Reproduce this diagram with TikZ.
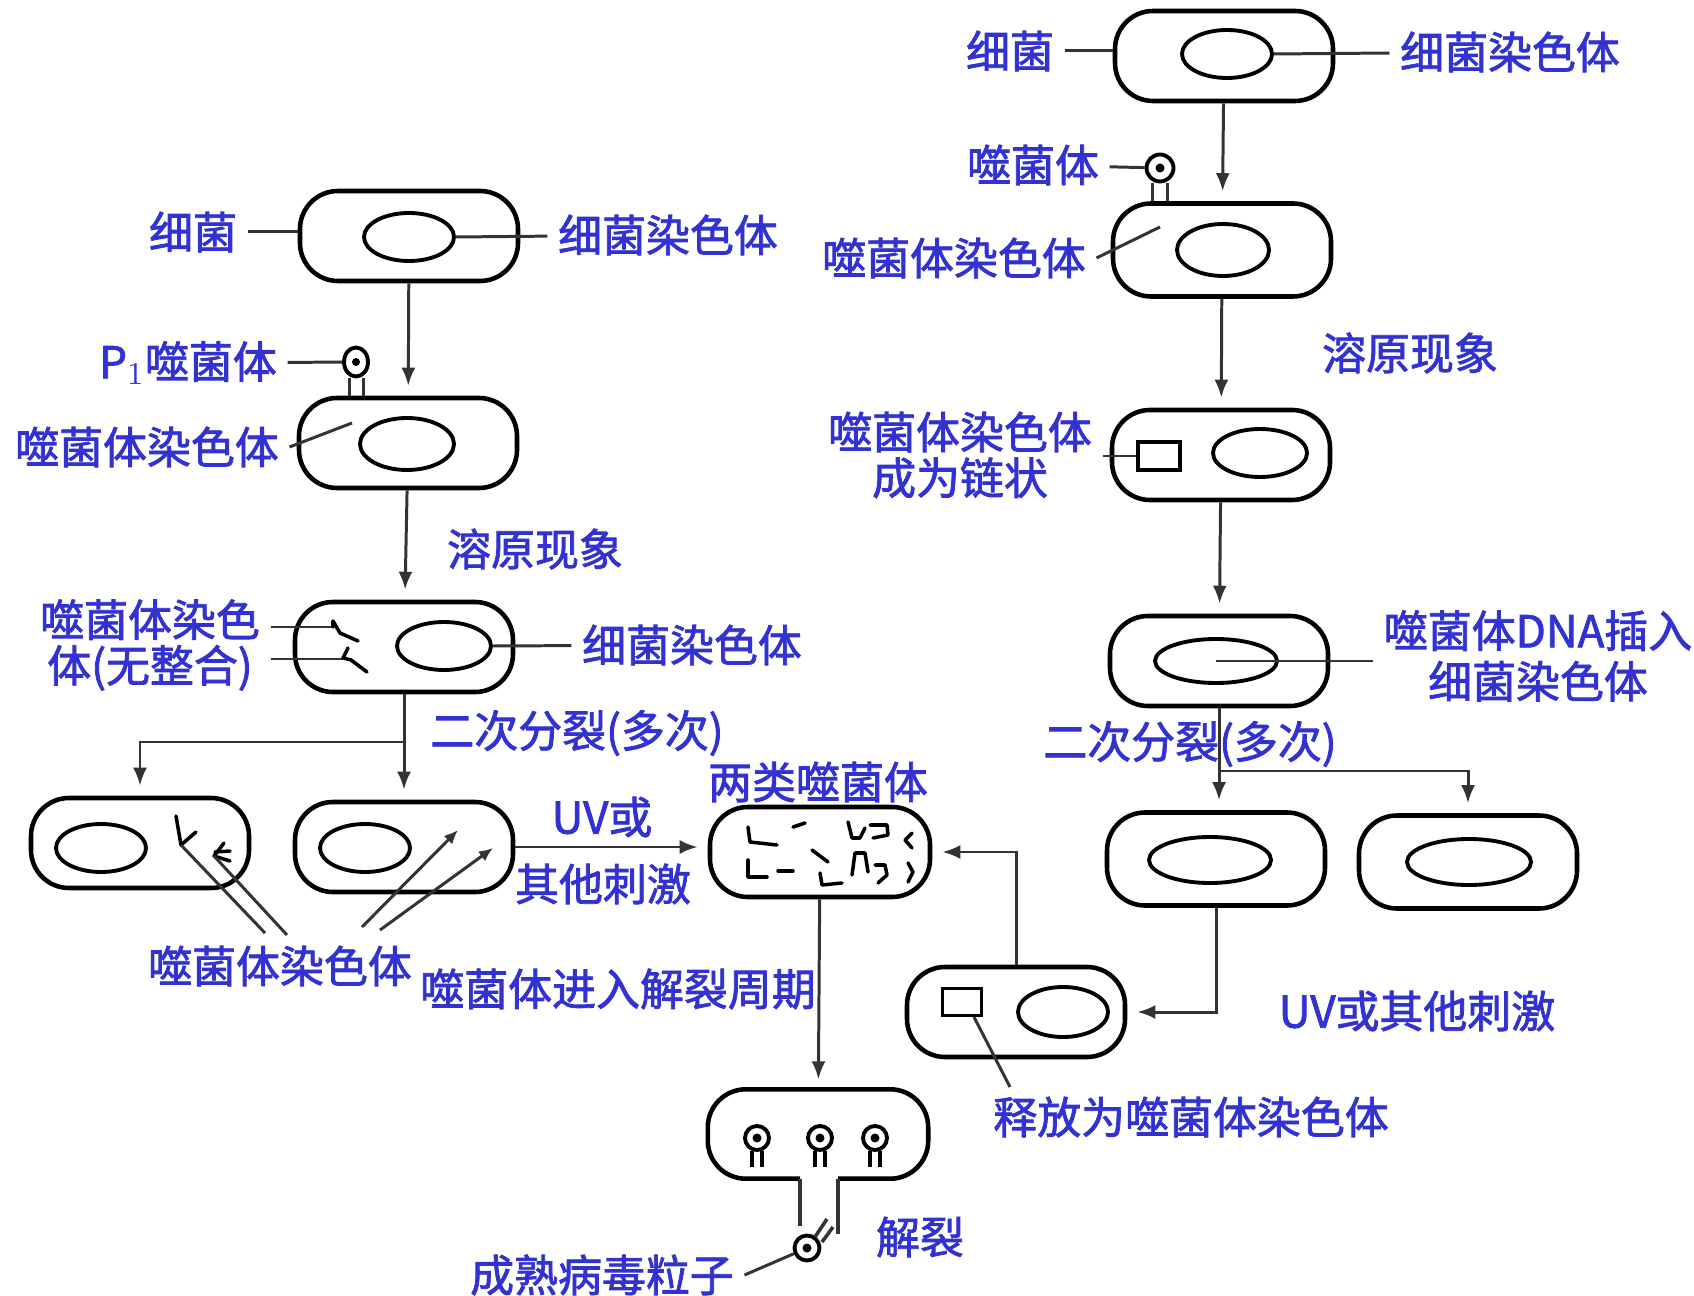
\documentclass[tikz,border=0pt]{standalone}
\usepackage{fontspec}
\newfontfamily\cjk{Noto Sans CJK SC}[FakeBold=1.8]
\usetikzlibrary{shapes.geometric,arrows.meta}
\definecolor{ink}{RGB}{50,50,210}

\begin{document}
\begin{tikzpicture}[x=0.1mm, y=-0.1mm,
  cell/.style={draw, line width=1.3pt, rounded corners=3.8mm, minimum width=21.8mm, minimum height=9mm, inner sep=0pt},
  wall/.style={line width=1.3pt, rounded corners=3.8mm},
  chrom/.style={draw, ellipse, line width=1.1pt, inner sep=0pt, minimum width=9mm, minimum height=4.8mm},
  ring/.style={draw, line width=0.9pt, inner sep=0pt, minimum width=4.2mm, minimum height=2.8mm},
  head/.style={draw, ellipse, line width=1.1pt, inner sep=0pt, minimum width=2.4mm, minimum height=2.9mm},
  lbl/.style={text=ink, font=\cjk\fontsize{12.5}{13}\selectfont, inner sep=1mm},
  lead/.style={line width=0.85pt, draw=black!80},
  flow/.style={lead, -{Latex[length=1.8mm,width=1.4mm]}, shorten >=1mm},
  squig/.style={line width=1pt, line cap=round, line join=round},
  phage/.pic={\draw[line width=1.1pt] (0,0) circle (1.2mm); \fill (0,0) circle (0.45mm);
    \draw[line width=0.9pt] (-5,13) -- (-5,29) (5,13) -- (5,29);}]
\useasboundingbox (0,0) rectangle (1694,1296);

% left: lysogeny without integration
\node (a1) at (409,236) [cell] {};
\node (a1c) at (409,237) [chrom] {};
\node (a1l) at (193,232) [lbl] {细菌};
\node (a1r) at (668,235) [lbl] {细菌染色体};
\draw[lead] (a1l) -- (a1l -| a1.west);
\draw[lead] (a1c.east) -- (a1r);

\node (a2) at (408,443) [cell] {};
\node (a2c) at (407,444) [chrom, minimum width=9.4mm, minimum height=5.2mm] {};
\node (p1) at (356,362) [head] {};
\fill (p1) circle (0.4mm);
\draw[lead] ([xshift=-0.7mm]p1.south) -- ([xshift=-0.7mm]p1.south |- a2.north);
\draw[lead] ([xshift=0.7mm]p1.south) -- ([xshift=0.7mm]p1.south |- a2.north);
\node (a2p) at (188,363) [lbl] {P$_1$噬菌体};
\draw[lead] (a2p) -- (p1);
\node (a2l) at (147,447) [lbl] {噬菌体染色体};
\coordinate (a2k) at (352,423);
\draw[lead] (a2l.east) -- (a2k);
\draw[flow] (a1) -- (a2);
\node (a23) at (535,549) [lbl] {溶原现象};

\node (a3) at (404,647) [cell] {};
\node (a3c) at (444,646) [chrom, minimum width=9.4mm] {};
\node (a3l) at (150,645) [lbl, align=center] {噬菌体染色\\体(无整合)};
\node (a3r) at (692,645) [lbl] {细菌染色体};
\coordinate (k1) at (333,627);
\coordinate (k2) at (345,659);
\draw[lead] (a3l.east |- k1) -- (k1);
\draw[lead] (a3l.east |- k2) -- (k2);
\draw[squig] (k1) -- (333,621) -- (340,633) -- (358,641);
\draw[squig] (348,648) -- (343,658) -- (351,660) -- (367,672);
\draw[lead] (a3c.east) -- (a3r);
\draw[flow] (a2) -- (a3);

\node (a4) at (140,843) [cell] {};
\node (a4c) at (101,848) [chrom] {};
\coordinate (k3) at (181,845);
\coordinate (k4) at (214,856);
\draw[squig] (176,816) -- (k3) -- (196,832);
\draw[squig] (224,843) -- (k4) -- (230,861) (215,852) -- (230,851);
\node (a4l) at (280,966) [lbl] {噬菌体染色体};
\coordinate (m1) at (265,933);
\coordinate (m2) at (287,935);
\draw[lead] (k3) -- (m1);
\draw[lead] (k4) -- (m2);

\node (a5) at (404,847) [cell] {};
\node (a5c) at (365,848) [chrom] {};
\coordinate (m3) at (362,927);
\coordinate (m4) at (380,930);
\coordinate (t1) at (458,830);
\coordinate (t2) at (493,848);
\draw[lead, -{Latex[length=1.4mm,width=1.2mm]}] (m3) -- (t1);
\draw[lead, -{Latex[length=1.4mm,width=1.2mm]}] (m4) -- (t2);

\coordinate (s1) at (404,742);
\draw[lead] (a3) -- (s1);
\draw[flow] (s1) -- (a5);
\draw[flow] (s1) -| (a4);
\node (a3d) at (577,733) [lbl] {二次分裂(多次)};

% two kinds of phage, then lysis
\node (a6) at (820,852) [cell, minimum width=22mm] {};
\node (a6t) at (818,782) [lbl] {两类噬菌体};
\draw[squig] (748,827) -- (750,842) -- (777,845) (793,827) -- (805,823);
\draw[squig] (848,822) -- (852,838) -- (860,838) -- (865,828);
\draw[squig] (870,825) -- (887,825) -- (888,835) -- (873,838);
\draw[squig] (912,833) -- (905,840) -- (912,848);
\draw[squig] (748,860) -- (748,877) -- (767,877) (778,871) -- (793,871);
\draw[squig] (812,850) -- (828,862) (820,873) -- (822,885) -- (842,883);
\draw[squig] (852,875) -- (855,853) -- (865,853) -- (868,872);
\draw[squig] (875,865) -- (885,865) -- (887,875) -- (878,883);
\draw[squig] (908,863) -- (913,872) -- (908,882);
\draw[flow] (a5.east) -- (a5.east -| a6.west);
\node (uv1) at (602,817) [lbl] {UV或};
\node (uv2) at (603,884) [lbl] {其他刺激};

\node (a7) at (818,1134) [minimum width=21.9mm, minimum height=8.8mm, inner sep=0pt] {};
\draw[wall] ([xshift=-1.8mm]a7.south) -- (a7.south west) -- (a7.north west) -- (a7.north east) -- (a7.south east) -- ([xshift=2mm]a7.south);
\draw[lead, line width=1pt] ([xshift=-1.8mm]a7.south) -- ++(0,47);
\draw[lead, line width=1pt] ([xshift=2mm]a7.south) -- ++(0,55);
\pic at (757,1138) {phage};
\pic at (820,1138) {phage};
\pic at (875,1138) {phage};
\draw[flow] (a6) -- (a7);
\node (a67) at (618,989) [lbl] {噬菌体进入解裂周期};

\node (vir) at (807,1248) [head, minimum width=2.5mm, minimum height=2.5mm] {};
\fill (vir) circle (0.45mm);
\draw[lead, line width=1pt] (815,1237) -- (827,1219) (822,1242) -- (833,1227);
\node (vl) at (602,1275) [lbl] {成熟病毒粒子};
\draw[lead] (vl.east) -- (vir);
\node (lys) at (920,1237) [lbl] {解裂};

% right: phage DNA integrates
\node (b1) at (1224,56) [cell] {};
\node (b1c) at (1227,54) [chrom] {};
\node (b1l) at (1010,51) [lbl] {细菌};
\node (b1r) at (1510,52) [lbl] {细菌染色体};
\draw[lead] (b1l) -- (b1l -| b1.west);
\draw[lead] (b1c.east) -- (b1r);

\node (b2) at (1222,250) [cell, minimum height=9.3mm] {};
\node (b2c) at (1223,250) [chrom, minimum width=9.2mm, minimum height=5.2mm] {};
\node (ph2) at (1160,168) [head, minimum width=2.7mm, minimum height=2.7mm] {};
\fill (ph2) circle (0.45mm);
\draw[lead] ([xshift=-0.8mm]ph2.south) -- ([xshift=-0.8mm]ph2.south |- b2.north);
\draw[lead] ([xshift=0.7mm]ph2.south) -- ([xshift=0.7mm]ph2.south |- b2.north);
\node (b2p) at (1033,165) [lbl] {噬菌体};
\draw[lead] (b2p) -- (ph2);
\node (b2l) at (954,258) [lbl] {噬菌体染色体};
\coordinate (b2k) at (1160,227);
\draw[lead] (b2l.east) -- (b2k);
\draw[flow] (b1) -- (b2);
\node (b23) at (1410,353) [lbl] {溶原现象};

\node (b3) at (1221,455) [cell] {};
\node (b3s) at (1159,456) [ring] {};
\node (b3c) at (1260,453) [chrom, minimum width=9.4mm] {};
\node (b3l) at (960,455) [lbl, align=center] {噬菌体染色体\\成为链状};
\draw[lead] (b3l.east |- b3s) -- (b3s);
\draw[flow] (b2) -- (b3);

\node (b4) at (1219,661) [cell, minimum height=9mm] {};
\node (b4c) at (1216,661) [chrom, minimum width=12.2mm, minimum height=4.4mm] {};
\node (b4r) at (1538,656) [lbl, align=center] {噬菌体DNA插入\\[0.5mm]细菌染色体};
\draw[lead] (b4c.center) -- (b4c.center -| b4r.west);
\draw[flow] (b3) -- (b4);

\node (b5) at (1216,859) [cell, minimum height=9.3mm] {};
\node (b5c) at (1210,860) [chrom, minimum width=12.2mm, minimum height=4.6mm] {};
\node (b6) at (1468,862) [cell, minimum height=9.3mm] {};
\node (b6c) at (1469,862) [chrom, minimum width=12.4mm, minimum height=4.6mm] {};

\coordinate (s2) at (1219,771);
\draw[lead] (b4) -- (s2);
\draw[flow] (s2) -- (s2 |- b5.north);
\draw[flow] (s2) -| (b6);
\node (b4d) at (1190,744) [lbl] {二次分裂(多次)};

\node (b7) at (1016,1012) [cell] {};
\node (b7s) at (962,1002) [ring, minimum width=3.9mm, minimum height=2.7mm] {};
\node (b7c) at (1063,1012) [chrom, minimum width=9mm, minimum height=5mm] {};
\draw[flow] (b5) |- (b7);
\node (uv3) at (1417,1011) [lbl] {UV或其他刺激};
\node (b7l) at (1191,1117) [lbl] {释放为噬菌体染色体};
\coordinate (b7k) at (1010,1087);
\draw[lead] ([xshift=1.2mm]b7s.south) -- (b7k);
\draw[flow] (b7) |- (a6);
\end{tikzpicture}
\end{document}
